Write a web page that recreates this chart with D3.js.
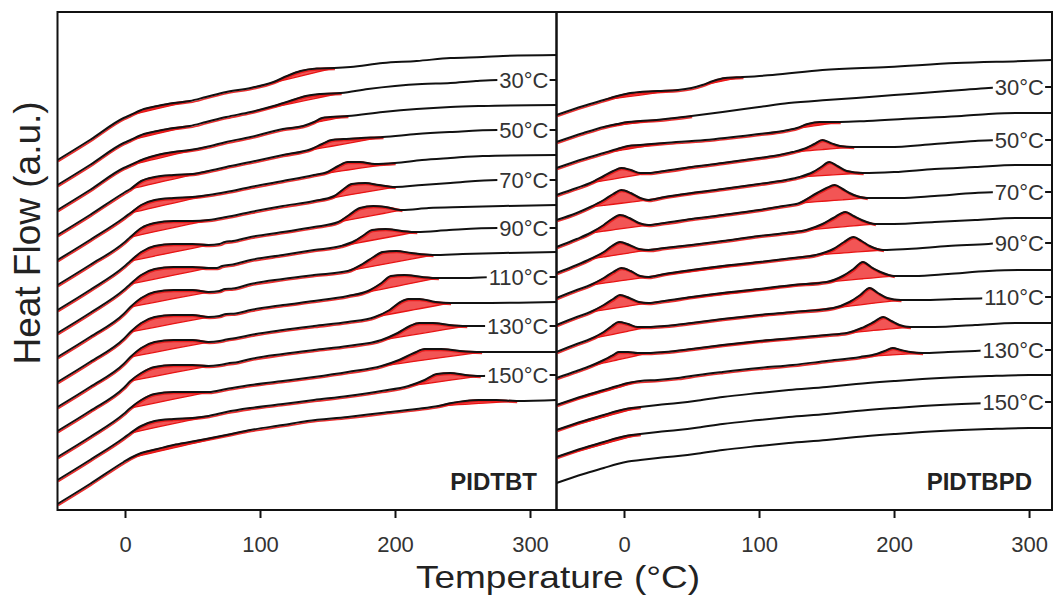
<!DOCTYPE html>
<html><head><meta charset="utf-8">
<script src="https://cdn.jsdelivr.net/npm/d3@7"></script>
<style>
body{margin:0;background:#fff;}
svg text{font-family:"Liberation Sans", Arial, sans-serif;}
</style>
</head><body>
<svg id="c" width="1055" height="595"></svg>
<script>
// ---------------- data ----------------
const xTicks = [0, 100, 200, 300];
const stepLabels = ["30°C", "50°C", "70°C", "90°C", "110°C", "130°C", "150°C"];
const labeledCurves = [1, 3, 5, 7, 9, 11, 13];

// stacking level (a.u.) of each trace at its right end
const endLevelsL = [455, 430, 405, 380, 355, 330, 305, 282, 258, 233, 208, 184, 158, 135, 110];
const endLevelsR = [450, 423, 397, 370, 345, 318, 292, 267, 240, 213, 187, 160, 135, 108, 82];

// PIDTBT traces: [temperature °C, heat flow relative to trace end level]
const curvesL = [
 [[-50,-105],[-26,-85],[-1,-63],[4,-60],[14,-54],[24,-51],[36,-48],[48,-46],[60,-42],[75,-37],[93,-33],[110,-27],[120,-21],[130,-16],[142,-13.5],[155,-13],[167,-12],[191,-8],[216,-6],[241,-3],[265,-2],[280,-1],[320,0]],
 [[-50,-105],[-26,-85],[-1,-63],[4,-60],[14,-54],[24,-51],[36,-48],[48,-46],[60,-42],[75,-37],[93,-32],[110,-26],[122,-21],[134,-16],[145,-14],[160,-13],[180,-9],[200,-6],[220,-4],[241,-3],[260,-1],[276,0],[320,0]],
 [[-50,-105],[-26,-85],[-1,-63],[4,-60],[14,-54],[24,-50],[36,-47],[48,-45],[60,-42],[75,-37],[93,-32],[117,-24],[132,-21],[140,-17],[146,-13],[152,-12],[165,-11],[191,-7],[216,-4],[241,-2],[265,-1],[320,0]],
 [[-50,-105],[-26,-85],[-1,-63],[4,-59],[12,-51],[22,-47],[36,-45],[50,-44],[62,-41],[75,-37],[93,-32],[117,-25],[138,-19],[146,-14],[153,-10],[162,-9],[175,-8],[191,-7],[216,-4],[241,-2],[276,0],[320,0]],
 [[-50,-105],[-26,-85],[-1,-63],[4,-58],[12,-50],[22,-45],[36,-43],[50,-42],[62,-40],[75,-37],[93,-32],[117,-26],[140,-20],[150,-17],[158,-11],[165,-7],[174,-7],[185,-9],[200,-8],[220,-5],[241,-3],[265,-1],[320,0]],
 [[-50,-105],[-26,-85],[-1,-63],[4,-57],[12,-48],[22,-43],[36,-41],[50,-41],[62,-40],[75,-37],[93,-32],[117,-26],[140,-21],[155,-16],[162,-9],[168,-4],[178,-3],[188,-5],[200,-7],[220,-5],[241,-3],[276,0],[320,0]],
 [[-50,-105],[-26,-85],[-1,-62],[4,-56],[12,-47],[22,-41],[36,-39],[50,-39],[62,-40],[70,-39],[74,-37],[80,-36],[93,-32],[117,-27],[140,-22],[158,-17],[166,-10],[174,-3],[184,-1],[193,-2],[205,-5],[225,-3],[250,-2],[280,-1],[320,0]],
 [[-50,-105],[-26,-85],[-1,-62],[4,-56],[12,-47],[22,-41],[36,-39],[50,-39],[62,-40],[68,-40],[72,-38],[80,-36.5],[93,-32],[117,-27],[140,-22],[160,-18],[170,-13],[177,-7],[183,-2],[193,-1],[205,-3],[216,-4],[240,-2],[276,0],[320,0]],
 [[-50,-105],[-26,-85],[-1,-62],[4,-55],[12,-46],[22,-40],[36,-38],[50,-38],[62,-40],[70,-39],[74,-37],[80,-36.5],[93,-32],[117,-27],[140,-23],[165,-19],[176,-12],[184,-5],[191,0],[201,1],[212,-1],[228,-3],[250,-2],[280,-1],[320,0]],
 [[-50,-105],[-26,-85],[-1,-62],[4,-55],[12,-46],[22,-40],[36,-38],[50,-38],[62,-40],[70,-39],[75,-37],[82,-36.5],[93,-33],[117,-28],[140,-24],[165,-19],[180,-14],[190,-6],[197,1],[207,2],[220,0],[232,-1],[250,-1],[276,0],[320,0]],
 [[-50,-105],[-26,-85],[-1,-62],[4,-55],[12,-46],[22,-40],[36,-38],[50,-38],[62,-40],[70,-39],[75,-37.5],[84,-35.5],[93,-33],[117,-28],[140,-24],[165,-20],[185,-15],[196,-8],[204,0],[210,3],[218,3],[230,0],[241,-1],[260,-1],[320,0]],
 [[-50,-105],[-26,-85],[-1,-62],[4,-55],[12,-47],[22,-41],[36,-39],[50,-39],[62,-40],[70,-39],[76,-37.5],[84,-36],[93,-33],[117,-28],[140,-24],[165,-20],[190,-14],[202,-7],[211,0],[218,3],[228,3],[240,1],[253,0],[276,0],[320,0]],
 [[-50,-105],[-26,-85],[-1,-62],[4,-56],[12,-48],[22,-42],[36,-40],[50,-40],[62,-40],[75,-37],[93,-33],[117,-29],[140,-25],[165,-20],[190,-14],[203,-8],[214,-1],[222,3],[234,3],[248,1],[264,0],[320,0]],
 [[-50,-105],[-26,-85],[-1,-63],[4,-58],[12,-51],[22,-46],[36,-44],[50,-43],[62,-41],[75,-37],[93,-33],[117,-29],[140,-25],[165,-21],[190,-16],[210,-11],[222,-5],[231,1],[241,2],[252,0],[263,-1],[276,0],[320,0]],
 [[-50,-104],[-26,-84],[-1,-62],[4,-58],[12,-53],[24,-49],[36,-45],[48,-42],[60,-39],[75,-35],[93,-30],[117,-25],[135,-21],[165,-17],[190,-13],[216,-9],[232,-6],[242,-3],[252,-1],[262,0],[275,0],[290,-1],[320,0]]
];
// shaded (red) peak ranges per trace, °C
const fillsL = [
 [[4,48],[93,155]], [[4,48],[93,160]], [[4,60],[117,165]], [[4,62],[117,191]],
 [[4,62],[140,200]], [[4,62],[140,200]], [[4,62],[158,205]], [[4,62],[160,216]],
 [[4,62],[165,228]], [[4,62],[165,232]], [[4,62],[185,241]], [[4,62],[190,253]],
 [[4,62],[190,264]], [[4,62],[210,263]], [[4,93],[232,290]]
];

// PIDTBPD traces
const curvesR = [
 [[-50,-55],[-30,-46],[-15,-40],[-5,-36],[3,-33.5],[12,-32],[25,-31],[40,-30],[50,-28],[58,-25],[66,-21],[75,-18],[88,-17],[110,-15],[147,-10],[196,-7],[246,-3],[296,-1],[317,0]],
 [[-50,-55],[-30,-46],[-15,-40],[-5,-37],[3,-35],[12,-34],[24,-33],[50,-29],[73,-25],[100,-20],[122,-16],[150,-13],[172,-11],[200,-8],[221,-6],[250,-3],[270,-1],[290,0],[317,0]],
 [[-50,-55],[-30,-46],[-15,-40],[-5,-36],[3,-33],[12,-32],[30,-30],[60,-27],[100,-21],[118,-18],[128,-15],[136,-11],[145,-9],[160,-9],[180,-8],[220,-5],[250,-3],[270,-1],[290,0],[317,0]],
 [[-50,-55],[-35,-48],[-25,-43],[-15,-36],[-8,-31],[-2,-28],[5,-30],[12,-33],[18,-33],[30,-31],[50,-27],[73,-23],[100,-18],[115,-15],[125,-12],[135,-8],[141,-4],[147,0],[153,-3],[160,-6],[170,-7],[196,-7],[230,-4],[260,-1],[280,0],[317,0]],
 [[-50,-55],[-35,-48],[-25,-42],[-15,-35],[-8,-29],[-2,-25],[5,-28],[12,-33],[18,-35],[30,-32],[50,-28],[73,-24],[100,-19],[120,-15],[130,-12],[140,-7],[146,-2],[152,3],[158,-1],[165,-6],[177,-8],[200,-7],[230,-4],[260,-2],[290,0],[317,0]],
 [[-50,-55],[-35,-47],[-25,-41],[-15,-33],[-9,-27],[-3,-23],[4,-26],[11,-31],[18,-33],[30,-31],[50,-27],[73,-23],[100,-18],[118,-14],[130,-11],[143,-1],[150,4],[156,7],[162,3],[167,-1],[180,-6],[204,-6],[230,-4],[260,-1],[280,0],[317,0]],
 [[-50,-55],[-35,-47],[-25,-41],[-15,-34],[-9,-28],[-3,-24],[4,-27],[11,-31],[18,-32],[30,-30],[50,-27],[73,-23],[100,-18],[120,-15],[135,-12],[147,-6],[155,0],[164,6],[170,2],[176,-2],[186,-6],[200,-6],[230,-4],[260,-2],[290,0],[317,0]],
 [[-50,-55],[-35,-47],[-25,-42],[-15,-35],[-8,-29],[-2,-25],[5,-28],[12,-33],[18,-34],[30,-31],[50,-27],[73,-23],[100,-19],[125,-15],[142,-12],[155,-6],[163,1],[170,6],[176,2],[182,-3],[192,-7],[210,-6],[240,-3],[270,-1],[280,0],[317,0]],
 [[-50,-55],[-35,-47],[-25,-42],[-15,-35],[-8,-29],[-3,-25],[4,-28],[11,-32],[18,-33],[30,-31],[50,-27],[73,-23],[100,-19],[125,-15],[150,-12],[162,-6],[170,1],[177,8],[183,3],[190,-2],[200,-6],[215,-6],[240,-4],[270,-1],[295,0],[317,0]],
 [[-50,-55],[-35,-47],[-25,-42],[-15,-35],[-9,-29],[-4,-25],[3,-27],[10,-30],[18,-30],[30,-29],[50,-26],[73,-22],[100,-18],[125,-15],[155,-11],[167,-5],[175,2],[182,9],[188,4],[195,-1],[205,-3],[220,-3],[245,-2],[270,-1],[280,0],[317,0]],
 [[-50,-55],[-35,-48],[-25,-43],[-15,-37],[-8,-32],[-4,-29],[3,-29],[10,-30],[18,-30],[30,-29],[50,-26],[73,-22],[100,-18],[125,-15],[150,-12],[165,-10],[176,-5],[185,1],[192,6],[198,2],[204,-2],[212,-4],[230,-4],[260,-2],[290,0],[317,0]],
 [[-50,-55],[-30,-46],[-15,-40],[-5,-36],[3,-33],[12,-31],[25,-30],[40,-28],[55,-25],[73,-22],[100,-18],[125,-15],[150,-11],[175,-7],[187,-4],[193,-1],[199,2],[205,0],[212,-2],[221,-3],[240,-2],[260,-1],[280,0],[317,0]],
 [[-50,-55],[-30,-46],[-15,-40],[-5,-36],[3,-33.5],[12,-32],[25,-30],[40,-28],[55,-25.5],[73,-22],[100,-18],[122,-15],[150,-12],[172,-9],[200,-6],[221,-4],[250,-2],[270,-1],[300,0],[317,0]],
 [[-50,-55],[-30,-46],[-15,-40],[-5,-36],[3,-33.5],[12,-32],[25,-30],[40,-28],[55,-25.5],[73,-22],[100,-18],[122,-15],[150,-12],[172,-9],[200,-6],[221,-4],[250,-2],[270,-1],[300,0],[317,0]],
 [[-50,-55],[-30,-46],[-15,-40],[-5,-36],[3,-33.5],[12,-32],[25,-30],[40,-28],[55,-25.5],[73,-22],[100,-18],[122,-15],[150,-12],[172,-9],[200,-6],[221,-4],[250,-2],[270,-1],[300,0],[317,0]]
];
const fillsR = [
 [[-15,40],[58,88]], [[-15,50]], [[-15,30],[100,160]], [[-25,18],[18,125],[125,175]],
 [[-25,18],[18,125],[125,180]], [[-25,18],[18,125],[125,195]], [[-25,18],[18,135],[135,195]],
 [[-25,18],[18,142],[142,200]], [[-25,18],[18,150],[150,210]], [[-25,18],[18,155],[155,215]],
 [[-25,18],[18,165],[165,222]], [[-50,12],[175,230]], [[-50,12]], [[-50,12]], []
];

// ---------------- drawing ----------------
const svg = d3.select("#c");
const TOP = 12, BOTTOM = 510;
const y = d3.scaleLinear().domain([0, 498]).range([BOTTOM, TOP]);

const panels = [
  {name: "PIDTBT", x: d3.scaleLinear().domain([-50, 320]).range([57.5, 557]), left: 57.5, right: 556.5,
   curves: curvesL, fills: fillsL, ends: endLevelsL, nameX: 537},
  {name: "PIDTBPD", x: d3.scaleLinear().domain([-50, 317]).range([556.5, 1052]), left: 556.5, right: 1052,
   curves: curvesR, fills: fillsR, ends: endLevelsR, nameX: 1032}
];

panels.forEach((p, pi) => {
  const clipId = "clip" + pi;
  svg.append("clipPath").attr("id", clipId).append("rect")
    .attr("x", p.left).attr("y", TOP).attr("width", p.right - p.left).attr("height", BOTTOM - TOP);
  const gFill = svg.append("g").attr("clip-path", `url(#${clipId})`);
  const gShadow = svg.append("g").attr("clip-path", `url(#${clipId})`);
  const gLine = svg.append("g").attr("clip-path", `url(#${clipId})`);

  p.curves.forEach((c, i) => {
    const off = p.ends[i];
    const yy = v => y(off + v);
    const line = d3.line().x(d => p.x(d[0])).y(d => yy(d[1])).curve(d3.curveMonotoneX);

    let lastEnd = -Infinity;
    p.fills[i].forEach(([a, b]) => {
      const pts = c.filter(d => d[0] >= a && d[0] <= b);
      if (pts.length < 2) return;
      const p0 = pts[0], p1 = pts[pts.length - 1];
      lastEnd = Math.max(lastEnd, p1[0]);
      const chord = t => p0[1] + (p1[1] - p0[1]) * (t - p0[0]) / (p1[0] - p0[0]);
      const area = d3.area()
        .x(d => p.x(d[0]))
        .y1(d => yy(d[1]))
        .y0(d => Math.max(yy(d[1]), yy(chord(d[0]))))
        .curve(d3.curveMonotoneX);
      gFill.append("path").attr("d", area(pts))
        .attr("fill", "#f25555").attr("stroke", "#e81414").attr("stroke-width", 1.3)
        .attr("stroke-linejoin", "round");
    });

    if (lastEnd > -Infinity) {
      const sp = c.filter(d => d[0] <= lastEnd);
      gShadow.append("path").attr("d", line(sp))
        .attr("transform", "translate(0.7,1.5)")
        .attr("fill", "none").attr("stroke", "#e81818").attr("stroke-width", 1.6)
        .attr("stroke-opacity", 0.9);
    }

    gLine.append("path").attr("d", line(c))
      .attr("fill", "none").attr("stroke", "#111").attr("stroke-width", 2)
      .attr("stroke-linejoin", "round");
  });

  // temperature labels with white backing
  const gLab = svg.append("g");
  labeledCurves.forEach((ci, k) => {
    const yv = y(p.ends[ci]);
    const r = gLab.append("rect");
    const t = gLab.append("text")
      .attr("x", p.right - 8).attr("y", yv)
      .attr("text-anchor", "end").attr("dominant-baseline", "central")
      .attr("font-size", 22).attr("fill", "#333").text(stepLabels[k]);
    const bb = t.node().getBBox();
    r.attr("x", bb.x - 2).attr("y", yv - 9).attr("width", bb.width + 3).attr("height", 18).attr("fill", "#fff");
  });

  // sample name
  svg.append("text").attr("x", p.nameX).attr("y", 490).attr("text-anchor", "end")
    .attr("font-size", 24).attr("font-weight", "bold").attr("fill", "#222").text(p.name);

  // frame
  svg.append("rect").attr("x", p.left).attr("y", TOP).attr("width", p.right - p.left).attr("height", BOTTOM - TOP)
    .attr("fill", "none").attr("stroke", "#111").attr("stroke-width", 2);

  // bottom axis
  const ax = svg.append("g").attr("transform", `translate(0,${BOTTOM})`)
    .call(d3.axisBottom(p.x).tickValues(xTicks).tickSize(8).tickPadding(18));
  ax.select(".domain").remove();
  ax.selectAll(".tick line").attr("stroke", "#111").attr("stroke-width", 2);
  ax.selectAll(".tick text").attr("font-size", 22).attr("fill", "#333")
    .attr("font-family", "'Liberation Sans', Arial, sans-serif");
});

// axis titles
svg.append("text").attr("x", 558).attr("y", 588).attr("text-anchor", "middle")
  .attr("font-size", 32).attr("fill", "#222")
  .attr("textLength", 284).attr("lengthAdjust", "spacingAndGlyphs")
  .text("Temperature (°C)");
svg.append("text").attr("transform", "translate(40,233) rotate(-90)").attr("text-anchor", "middle")
  .attr("font-size", 37).attr("fill", "#222").text("Heat Flow (a.u.)");
</script>
</body></html>
